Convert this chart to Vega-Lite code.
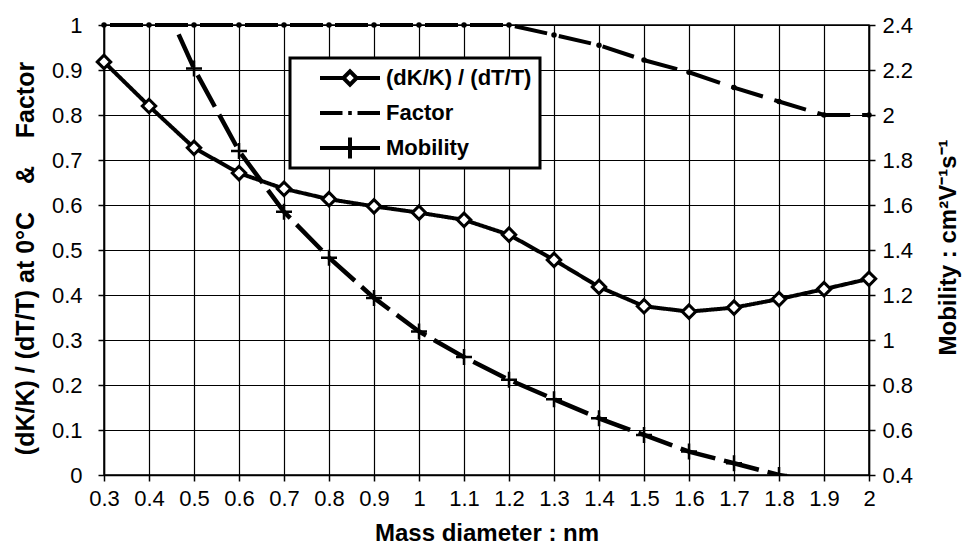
{
  "$schema": "https://vega.github.io/schema/vega-lite/v6.json",
  "width": 765,
  "height": 450,
  "autosize": {"type": "none"},
  "padding": {"left": 104, "top": 25, "right": 93, "bottom": 72},
  "background": "white",
  "config": {
    "view": {"stroke": "black", "strokeWidth": 1.5},
    "axis": {
      "domainColor": "black", "domainWidth": 1.5,
      "tickColor": "black", "tickWidth": 1.5, "tickSize": 6,
      "gridColor": "black", "gridWidth": 1.2, "gridOpacity": 1,
      "labelFont": "Liberation Sans", "labelFontSize": 22, "labelColor": "black",
      "labelOverlap": false, "labelFlush": false,
      "titleFont": "Liberation Sans", "titleFontWeight": "bold", "titleFontSize": 24, "titleColor": "black"
    },
    "legend": {"strokeWidth": 3}
  },
  "data": {"values": [
    {"d": 0.3, "s": "(dK/K) / (dT/T)", "v": 0.918},
    {"d": 0.4, "s": "(dK/K) / (dT/T)", "v": 0.820},
    {"d": 0.5, "s": "(dK/K) / (dT/T)", "v": 0.727},
    {"d": 0.6, "s": "(dK/K) / (dT/T)", "v": 0.671},
    {"d": 0.7, "s": "(dK/K) / (dT/T)", "v": 0.636},
    {"d": 0.8, "s": "(dK/K) / (dT/T)", "v": 0.613},
    {"d": 0.9, "s": "(dK/K) / (dT/T)", "v": 0.597},
    {"d": 1.0, "s": "(dK/K) / (dT/T)", "v": 0.583},
    {"d": 1.1, "s": "(dK/K) / (dT/T)", "v": 0.567},
    {"d": 1.2, "s": "(dK/K) / (dT/T)", "v": 0.534},
    {"d": 1.3, "s": "(dK/K) / (dT/T)", "v": 0.478},
    {"d": 1.4, "s": "(dK/K) / (dT/T)", "v": 0.418},
    {"d": 1.5, "s": "(dK/K) / (dT/T)", "v": 0.375},
    {"d": 1.6, "s": "(dK/K) / (dT/T)", "v": 0.363},
    {"d": 1.7, "s": "(dK/K) / (dT/T)", "v": 0.372},
    {"d": 1.8, "s": "(dK/K) / (dT/T)", "v": 0.391},
    {"d": 1.9, "s": "(dK/K) / (dT/T)", "v": 0.413},
    {"d": 2.0, "s": "(dK/K) / (dT/T)", "v": 0.436},
    {"d": 0.3, "s": "Factor", "v": 1},
    {"d": 0.4, "s": "Factor", "v": 1},
    {"d": 0.5, "s": "Factor", "v": 1},
    {"d": 0.6, "s": "Factor", "v": 1},
    {"d": 0.7, "s": "Factor", "v": 1},
    {"d": 0.8, "s": "Factor", "v": 1},
    {"d": 0.9, "s": "Factor", "v": 1},
    {"d": 1.0, "s": "Factor", "v": 1},
    {"d": 1.1, "s": "Factor", "v": 1},
    {"d": 1.2, "s": "Factor", "v": 1},
    {"d": 1.3, "s": "Factor", "v": 0.978},
    {"d": 1.4, "s": "Factor", "v": 0.955},
    {"d": 1.5, "s": "Factor", "v": 0.922},
    {"d": 1.6, "s": "Factor", "v": 0.895},
    {"d": 1.7, "s": "Factor", "v": 0.861},
    {"d": 1.8, "s": "Factor", "v": 0.83},
    {"d": 1.9, "s": "Factor", "v": 0.80},
    {"d": 2.0, "s": "Factor", "v": 0.80},
    {"d": 0.3, "s": "Mobility", "v": 3.3},
    {"d": 0.4, "s": "Mobility", "v": 2.65},
    {"d": 0.5, "s": "Mobility", "v": 2.207},
    {"d": 0.6, "s": "Mobility", "v": 1.84},
    {"d": 0.7, "s": "Mobility", "v": 1.57},
    {"d": 0.8, "s": "Mobility", "v": 1.366},
    {"d": 0.9, "s": "Mobility", "v": 1.187},
    {"d": 1.0, "s": "Mobility", "v": 1.038},
    {"d": 1.1, "s": "Mobility", "v": 0.924},
    {"d": 1.2, "s": "Mobility", "v": 0.823},
    {"d": 1.3, "s": "Mobility", "v": 0.737},
    {"d": 1.4, "s": "Mobility", "v": 0.652},
    {"d": 1.5, "s": "Mobility", "v": 0.578},
    {"d": 1.6, "s": "Mobility", "v": 0.504},
    {"d": 1.7, "s": "Mobility", "v": 0.452},
    {"d": 1.8, "s": "Mobility", "v": 0.40},
    {"d": 1.9, "s": "Mobility", "v": 0.36},
    {"d": 2.0, "s": "Mobility", "v": 0.32}
  ]},
  "encoding": {
    "x": {
      "field": "d", "type": "quantitative",
      "scale": {"domain": [0.3, 2], "nice": false, "zero": false},
      "axis": {
        "values": [0.3, 0.4, 0.5, 0.6, 0.7, 0.8, 0.9, 1, 1.1, 1.2, 1.3, 1.4, 1.5, 1.6, 1.7, 1.8, 1.9, 2],
        "format": "~g", "grid": true, "labelPadding": 7,
        "title": "Mass diameter : nm", "titleY": 65, "titleBaseline": "alphabetic"
      }
    }
  },
  "layer": [
    {
      "transform": [{"filter": "datum.s !== 'Mobility'"}],
      "encoding": {
        "y": {
          "field": "v", "type": "quantitative",
          "scale": {"domain": [0, 1], "nice": false},
          "axis": {
            "orient": "left",
            "values": [0, 0.1, 0.2, 0.3, 0.4, 0.5, 0.6, 0.7, 0.8, 0.9, 1],
            "format": "~g", "grid": true, "labelPadding": 16,
            "title": "(dK/K) / (dT/T) at 0°C\u00a0\u00a0\u00a0\u00a0&\u00a0\u00a0\u00a0\u00a0Factor",
            "titleFontSize": 25, "titleAngle": 270, "titleX": -71, "titleY": 233,
            "titleBaseline": "alphabetic", "titleAlign": "center"
          }
        }
      },
      "layer": [
        {
          "mark": {"type": "line", "color": "black", "strokeWidth": 4, "strokeDashOffset": 39},
          "encoding": {
            "strokeDash": {
              "field": "s", "type": "nominal",
              "scale": {"domain": ["(dK/K) / (dT/T)", "Factor"], "range": [[1, 0], [33, 12]]},
              "legend": null
            }
          }
        },
        {
          "mark": {"type": "point", "filled": false, "stroke": "black", "opacity": 0},
          "encoding": {
            "shape": {
              "field": "s", "type": "nominal",
              "scale": {
                "domain": ["(dK/K) / (dT/T)", "Factor", "Mobility"],
                "range": [
                  "M-1,0H-0.22M0.22,0H1M-0.22,0L0,-0.22L0.22,0L0,0.22Z",
                  "M-1,0H-0.25M-0.06,0H0.06M0.25,0H1",
                  "M-1,0H1M0,-0.35V0.35"
                ]
              },
              "legend": {
                "title": null, "orient": "none", "legendX": 186, "legendY": 33,
                "symbolSize": 3600, "clipHeight": 24, "rowPadding": 11, "padding": 8,
                "symbolOffset": 20, "labelOffset": 4,
                "symbolStrokeWidth": 4, "symbolStrokeColor": "black", "symbolFillColor": "white",
                "symbolOpacity": 1,
                "labelFont": "Liberation Sans", "labelFontSize": 22, "labelFontWeight": "bold", "labelColor": "black",
                "strokeColor": "black", "fillColor": "white"
              }
            }
          }
        },
        {
          "transform": [{"filter": "datum.s === 'Factor'"}],
          "mark": {"type": "point", "shape": "circle", "filled": true, "color": "black", "size": 30, "opacity": 1}
        },
        {
          "transform": [{"filter": "datum.s === '(dK/K) / (dT/T)'"}],
          "mark": {"type": "point", "shape": "diamond", "filled": true, "fill": "white", "stroke": "black", "strokeWidth": 3, "size": 180, "opacity": 1}
        }
      ]
    },
    {
      "transform": [{"filter": "datum.s === 'Mobility'"}],
      "encoding": {
        "y": {
          "field": "v", "type": "quantitative",
          "scale": {"domain": [0.4, 2.4], "nice": false, "zero": false},
          "axis": {
            "orient": "right",
            "values": [0.4, 0.6, 0.8, 1, 1.2, 1.4, 1.6, 1.8, 2, 2.2, 2.4],
            "format": "~g", "grid": false, "labelPadding": 7,
            "title": "Mobility : cm²V⁻¹s⁻¹",
            "titleAngle": 270, "titleX": 86, "titleY": 222,
            "titleBaseline": "alphabetic", "titleAlign": "center"
          }
        }
      },
      "layer": [
        {
          "mark": {"type": "line", "color": "black", "strokeWidth": 4.5, "strokeDash": [36, 9], "clip": true},
          "encoding": {}
        },
        {
          "mark": {"type": "point", "shape": "M-1,0H1M0,-1V1", "filled": false, "stroke": "black", "strokeWidth": 2.5, "size": 256, "opacity": 1, "clip": true}
        }
      ]
    }
  ],
  "resolve": {"scale": {"y": "independent"}}
}
